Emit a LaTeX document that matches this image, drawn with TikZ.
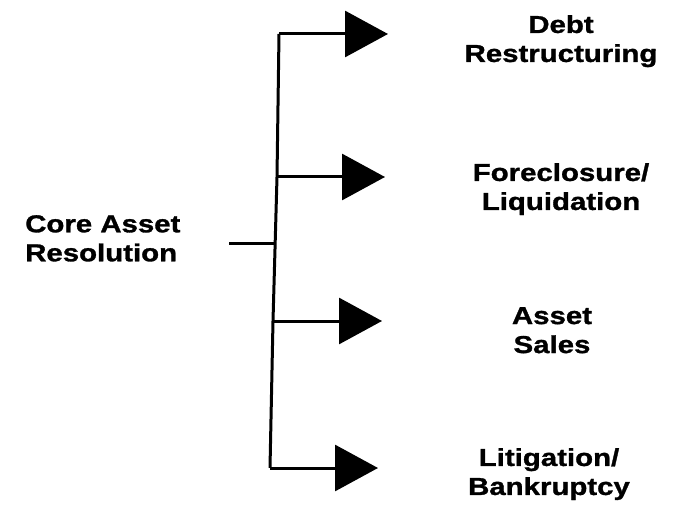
\documentclass[tikz,border=0pt]{standalone}
\usepackage{fontspec}
\setmainfont{Liberation Sans}[FakeStretch=1.2,BoldFeatures={FakeBold=1.2}]
\usetikzlibrary{arrows.meta}
\begin{document}
\begin{tikzpicture}[x=1pt,y=-1pt,
  lab/.style={font=\bfseries\fontsize{24.5}{29}\selectfont,inner sep=0pt,align=center,anchor=north},
  wire/.style={line width=3pt,line cap=butt,line join=miter},
  tri/.style={wire,-{Triangle[length=43pt,width=46pt]}}]
\useasboundingbox (0,0) rectangle (675,505);
\node[lab,align=left,anchor=north west] (root) at (25,215) {Core Asset\\Resolution};
\node[lab] (l1) at (561,15) {Debt\\Restructuring};
\node[lab] (l2) at (561,163) {Foreclosure/\\Liquidation};
\node[lab] (l3) at (552,307) {Asset\\Sales};
\node[lab] (l4) at (549,448) {Litigation/\\Bankruptcy};
\coordinate (s0) at (229,244);
\coordinate (s) at (275,244);
\coordinate (j1) at (279,34);
\coordinate (j2) at (277,177);
\coordinate (j3) at (273,321);
\coordinate (j4) at (270,468);
\coordinate (a1) at (388,34);
\coordinate (a2) at (385,177);
\coordinate (a3) at (382,321);
\coordinate (a4) at (378,468);
\draw[wire] (s0) -- (s);
\draw[wire] (j1) -- (j2) -- (j3) -- (j4);
\draw[tri] (j1) -- (a1);
\draw[tri] (j2) -- (a2);
\draw[tri] (j3) -- (a3);
\draw[tri] (j4) -- (a4);
\end{tikzpicture}
\end{document}
